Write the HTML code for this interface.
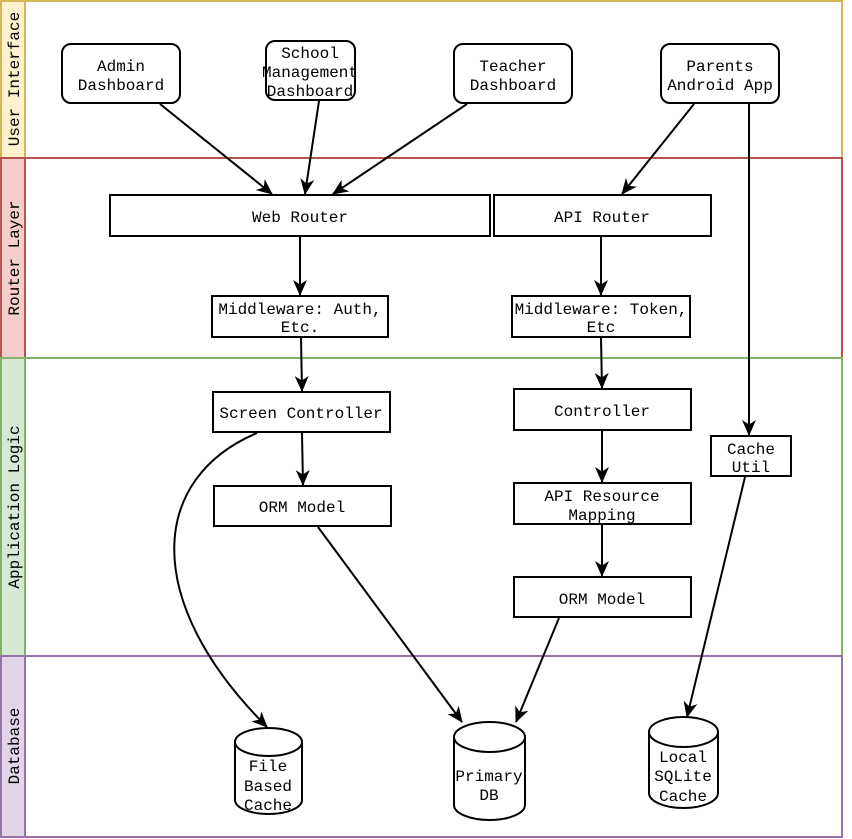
<!DOCTYPE html>
<html><head><meta charset="utf-8"><style>
html,body{margin:0;padding:0;background:#fff;}
svg{display:block;}
</style></head><body>
<svg width="852" height="839" viewBox="0 0 852 839" xmlns="http://www.w3.org/2000/svg" font-family="Liberation Mono, monospace" font-size="16">
<defs>
<marker id="a" markerWidth="16" markerHeight="14" refX="15" refY="7" orient="auto" markerUnits="userSpaceOnUse">
<path d="M0,0 L16,7 L0,14 L4.5,7 z" fill="#000"/>
</marker>
</defs>
<rect x="1" y="1" width="841" height="157" fill="#fff" stroke="#d6b656" stroke-width="2"/>
<rect x="1" y="1" width="24" height="157" fill="#fff2cc" stroke="#d6b656" stroke-width="2"/>
<rect x="1" y="158" width="841" height="200" fill="#fff" stroke="#b85450" stroke-width="2"/>
<rect x="1" y="158" width="24" height="200" fill="#f8cecc" stroke="#b85450" stroke-width="2"/>
<rect x="1" y="358" width="841" height="298" fill="#fff" stroke="#82b366" stroke-width="2"/>
<rect x="1" y="358" width="24" height="298" fill="#d5e8d4" stroke="#82b366" stroke-width="2"/>
<rect x="1" y="656" width="841" height="181" fill="#fff" stroke="#9673a6" stroke-width="2"/>
<rect x="1" y="656" width="24" height="181" fill="#e1d5e7" stroke="#9673a6" stroke-width="2"/>
<text transform="translate(19,79) rotate(-90)" text-anchor="middle">User Interface</text>
<text transform="translate(19,258) rotate(-90)" text-anchor="middle">Router Layer</text>
<text transform="translate(19,507) rotate(-90)" text-anchor="middle">Application Logic</text>
<text transform="translate(19,746) rotate(-90)" text-anchor="middle">Database</text>

<g fill="#fff" stroke="#000" stroke-width="2">
<rect x="62" y="44" width="118" height="59" rx="9"/>
<rect x="266" y="41" width="89" height="59" rx="9"/>
<rect x="454" y="44" width="118" height="59" rx="9"/>
<rect x="661" y="44" width="118" height="59" rx="9"/>
<rect x="110" y="195" width="380" height="41"/>
<rect x="494" y="195" width="217" height="41"/>
<rect x="212" y="296" width="176" height="41"/>
<rect x="512" y="296" width="178" height="41"/>
<rect x="213" y="392" width="177" height="40"/>
<rect x="514" y="389" width="177" height="41"/>
<rect x="711" y="436" width="80" height="40"/>
<rect x="214" y="486" width="177" height="40"/>
<rect x="514" y="483" width="177" height="41"/>
<rect x="514" y="577" width="177" height="40"/>
<path d="M235,742 L235,800 A33.5,14 0 0 0 302,800 L302,742"/>
<ellipse cx="268.5" cy="742" rx="33.5" ry="14"/>
<path d="M454,737 L454,805 A35.5,15 0 0 0 525,805 L525,737"/>
<ellipse cx="489.5" cy="737" rx="35.5" ry="15"/>
<path d="M649,732 L649,793 A34.5,15 0 0 0 718,793 L718,732"/>
<ellipse cx="683.5" cy="732" rx="34.5" ry="15"/>
</g>

<g text-anchor="middle">
<text x="121" y="71">Admin</text><text x="121" y="90">Dashboard</text>
<text x="310" y="58">School</text><text x="310" y="77">Management</text><text x="310" y="96">Dashboard</text>
<text x="513" y="71">Teacher</text><text x="513" y="90">Dashboard</text>
<text x="720" y="71">Parents</text><text x="720" y="90">Android App</text>
<text x="300" y="222">Web Router</text>
<text x="602" y="222">API Router</text>
<text x="300" y="314">Middleware: Auth,</text><text x="300" y="332">Etc.</text>
<text x="601" y="314">Middleware: Token,</text><text x="601" y="332">Etc</text>
<text x="301" y="418">Screen Controller</text>
<text x="602" y="416">Controller</text>
<text x="751" y="454">Cache</text><text x="751" y="472">Util</text>
<text x="302" y="512">ORM Model</text>
<text x="602" y="501">API Resource</text><text x="602" y="520">Mapping</text>
<text x="602" y="604">ORM Model</text>
<text x="268" y="771">File</text><text x="268" y="791">Based</text><text x="268" y="810">Cache</text>
<text x="489" y="781">Primary</text><text x="489" y="800">DB</text>
<text x="683" y="762">Local</text><text x="683" y="781">SQLite</text><text x="683" y="801">Cache</text>
</g>

<g stroke="#000" stroke-width="2" fill="none" marker-end="url(#a)">
<line x1="160" y1="104" x2="272" y2="194"/>
<line x1="319" y1="101" x2="305" y2="194"/>
<line x1="467" y1="104" x2="333" y2="194"/>
<line x1="694" y1="104" x2="622" y2="194"/>
<line x1="749" y1="104" x2="749" y2="435"/>
<line x1="300" y1="237" x2="300" y2="295"/>
<line x1="601" y1="237" x2="601" y2="295"/>
<line x1="301" y1="338" x2="302" y2="391"/>
<line x1="601" y1="338" x2="602" y2="388"/>
<line x1="302" y1="433" x2="303" y2="485"/>
<path d="M257,433 C150,478 140,600 267,727"/>
<line x1="318" y1="527" x2="462" y2="722"/>
<line x1="559" y1="618" x2="516" y2="722"/>
<line x1="602" y1="431" x2="602" y2="482"/>
<line x1="602" y1="525" x2="602" y2="576"/>
<line x1="745" y1="477" x2="687" y2="717"/>
</g>
</svg>
</body></html>
